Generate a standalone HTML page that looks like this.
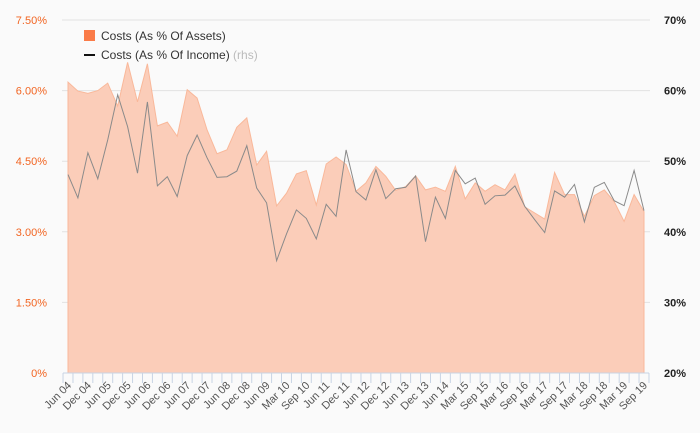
<!DOCTYPE html>
<html><head><meta charset="utf-8"><style>
html,body{margin:0;padding:0;background:#fafafa;}
svg{display:block;font-family:"Liberation Sans",sans-serif;}
</style></head><body>
<svg id="chart" width="700" height="433">
<rect x="0" y="0" width="700" height="433" fill="#fafafa"/>
<g id="grid"></g><g id="area"></g><g id="line"></g><g id="axes"></g>
<g>
<rect x="84" y="30" width="11" height="11" fill="#fa7b48"/>
<text x="101" y="40" font-size="12" fill="#333">Costs (As % Of Assets)</text>
<line x1="84" y1="55" x2="95" y2="55" stroke="#111" stroke-width="2"/>
<text x="101" y="59" font-size="12" fill="#333">Costs (As % Of Income) <tspan fill="#bbb">(rhs)</tspan></text>
</g>
</svg>
<script>
const categories=["Jun 04","","Dec 04","","Jun 05","","Dec 05","","Jun 06","","Dec 06","","Jun 07","","Dec 07","","Jun 08","","Dec 08","","Jun 09","","Mar 10","","Sep 10","","Jun 11","","Dec 11","","Jun 12","","Dec 12","","Jun 13","","Dec 13","","Jun 14","","Mar 15","","Sep 15","","Mar 16","","Sep 16","","Mar 17","","Sep 17","","Mar 18","","Sep 18","","Mar 19","","Sep 19"];
const assetsPct=[6.18,5.99,5.94,6.00,6.16,5.67,6.60,5.76,6.57,5.25,5.33,5.03,6.02,5.84,5.17,4.66,4.74,5.22,5.42,4.42,4.71,3.55,3.82,4.23,4.30,3.57,4.44,4.59,4.43,3.86,4.04,4.39,4.18,3.88,3.96,4.19,3.89,3.95,3.86,4.39,3.70,4.04,3.86,4.00,3.89,4.23,3.53,3.40,3.27,4.26,3.79,3.79,3.33,3.77,3.89,3.64,3.22,3.79,3.43];
const incomePct=[48.1,44.8,51.2,47.5,53.0,59.4,54.9,48.3,58.4,46.5,47.8,45.0,50.8,53.7,50.5,47.7,47.8,48.6,52.2,46.2,44.1,35.9,39.7,43.1,41.9,39.0,43.9,42.2,51.6,45.7,44.5,48.8,44.7,46.1,46.3,47.9,38.6,44.9,41.9,48.7,46.8,47.6,43.9,45.1,45.2,46.5,43.6,41.7,39.9,45.8,44.9,46.7,41.4,46.3,47.0,44.4,43.7,48.7,43.0];
const leftTicks=[0,1.5,3.0,4.5,6.0,7.5];
const leftTickLabels=["0%","1.50%","3.00%","4.50%","6.00%","7.50%"];
const rightTicks=[20,30,40,50,60,70];
const rightTickLabels=["20%","30%","40%","50%","60%","70%"];
const NS="http://www.w3.org/2000/svg";
const X0=68,X1=644,Y0=373,Y1=20;
const n=assetsPct.length;
const xs=i=>X0+(X1-X0)*i/(n-1);
const yl=v=>Y0-(Y0-Y1)*v/7.5;
const yr=v=>Y0-(Y0-Y1)*(v-20)/50;
function mk(tag,attrs,parent){const e=document.createElementNS(NS,tag);for(const k in attrs)e.setAttribute(k,attrs[k]);parent.appendChild(e);return e;}
const grid=document.getElementById('grid'),axes=document.getElementById('axes');
leftTicks.forEach((t,i)=>{
 if(t>0){const g=mk('line',{x1:62,x2:650,y1:yl(t),y2:yl(t),stroke:'#e2e2e2','stroke-width':1},grid);
 
 }
 const tx=mk('text',{x:47,y:yl(t)+4,'text-anchor':'end','font-size':11,fill:'#f26522'},axes);
 tx.textContent=leftTickLabels[i];
 
 
});
rightTicks.forEach((t,i)=>{
 const tx=mk('text',{x:686,y:yr(t)+4,'text-anchor':'end','font-size':11,'font-weight':'bold',fill:'#222'},axes);
 tx.textContent=rightTickLabels[i];
 
 
});
let d='M'+xs(0)+','+Y0;
assetsPct.forEach((v,i)=>{d+=' L'+xs(i).toFixed(1)+','+yl(v).toFixed(1);});
d+=' L'+xs(n-1)+','+Y0+' Z';
const a=mk('path',{d:d,fill:'#fbcdb9',stroke:'#f9b89a','stroke-width':1},document.getElementById('area'));


const pts=incomePct.map((v,i)=>xs(i).toFixed(1)+','+yr(v).toFixed(1)).join(' ');
const l=mk('polyline',{points:pts,fill:'none',stroke:'#8a8a8a','stroke-width':1},document.getElementById('line'));


const base=mk('line',{x1:63,x2:649,y1:Y0,y2:Y0,stroke:'#c8d4e4','stroke-width':1},axes);


const step=(X1-X0)/(n-1);
for(let i=0;i<=n;i++){
 const x=X0-step/2+i*step;
 const tk=mk('line',{x1:x,x2:x,y1:Y0,y2:Y0+10,stroke:'#c8d4e4','stroke-width':1},axes);
 
 
}
categories.forEach((c,i)=>{
 if(!c)return;
 const x=xs(i)+4,y=Y0+13;
 const tx=mk('text',{x:x,y:y,'text-anchor':'end','font-size':11,fill:'#555',transform:'rotate(-45 '+x+' '+y+')'},axes);
 tx.textContent=c;
 
 
});
</script>
</body></html>
